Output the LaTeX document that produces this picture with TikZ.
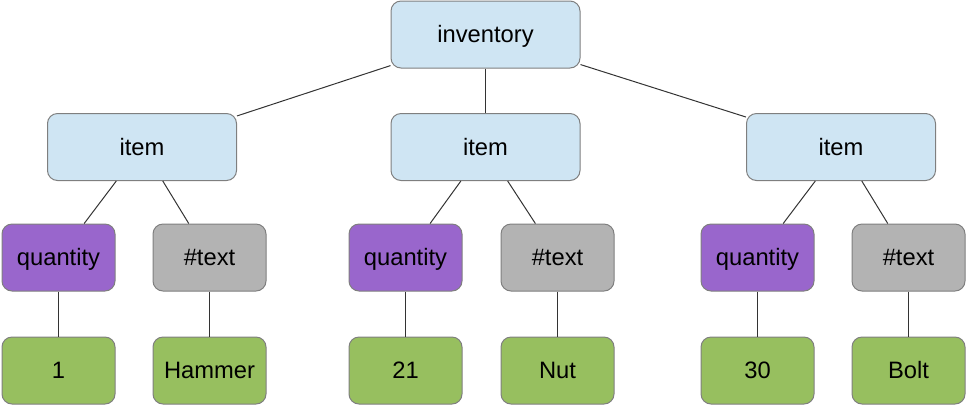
\documentclass[tikz,border=0pt]{standalone}
\usepackage{fontspec}
\setmainfont{Liberation Sans}
\usepackage{tikz}
\definecolor{elemblue}{HTML}{CFE5F3}
\definecolor{attrpurple}{HTML}{9966CC}
\definecolor{textgray}{HTML}{B3B3B3}
\definecolor{valgreen}{HTML}{97BF5F}
\definecolor{boxline}{HTML}{7F7F7F}
\tikzset{box/.style={rectangle, rounded corners=7.5pt, draw=boxline, line width=0.75pt,
                     minimum height=50.25pt, inner sep=0pt,
                     text height=16pt, text depth=4pt,
                     font=\fontsize{17.8}{21}\selectfont},
         elem/.style={box, fill=elemblue, minimum width=141.75pt},
         attr/.style={box, fill=attrpurple, minimum width=84.75pt},
         txt/.style={box, fill=textgray, minimum width=84.75pt},
         val/.style={box, fill=valgreen, minimum width=84.75pt},
         link/.style={draw=black!80, line width=0.75pt}
}

\begin{document}
\begin{tikzpicture}[x=0.75pt,y=-0.75pt]
    \useasboundingbox (0,0) rectangle (966,405);
            %                inventory
            %      item        item        item
            %   quantity #text ...
            %      1   Hammer  ...
        \node[elem] (inv) at (485.5,34.5) {inventory};
        \node[elem] (itemA) at (142,147)   {item};
        \node[elem] (itemB) at (485.5,147) {item};
        \node[elem] (itemC) at (841,147)   {item};
        \node[attr] (qtyA) at (58.5,257.5)  {quantity};
        \node[txt]  (txtA) at (209.5,257.5) {\#text};
        \node[attr] (qtyB) at (405.5,257.5) {quantity};
        \node[txt]  (txtB) at (557.5,257.5) {\#text};
        \node[attr] (qtyC) at (757.5,257.5) {quantity};
        \node[txt]  (txtC) at (908.5,257.5) {\#text};
        \node[val] (valA) at (58.5,370.5)  {1};
        \node[val] (nameA) at (209.5,370.5) {Hammer};
        \node[val] (valB) at (405.5,370.5) {21};
        \node[val] (nameB) at (557.5,370.5) {Nut};
        \node[val] (valC) at (757.5,370.5) {30};
        \node[val] (nameC) at (908.5,370.5) {Bolt};
        \path[link] (inv) edge (itemA)
              (inv) edge (itemB)
              (inv) edge (itemC);
        \path[link] (itemA) edge (qtyA)
              (itemA) edge (txtA)
              (itemB) edge (qtyB)
              (itemB) edge (txtB)
              (itemC) edge (qtyC)
              (itemC) edge (txtC);
        \path[link] (qtyA) edge (valA)
              (txtA) edge (nameA)
              (qtyB) edge (valB)
              (txtB) edge (nameB)
              (qtyC) edge (valC)
              (txtC) edge (nameC);
\end{tikzpicture}
\end{document}
